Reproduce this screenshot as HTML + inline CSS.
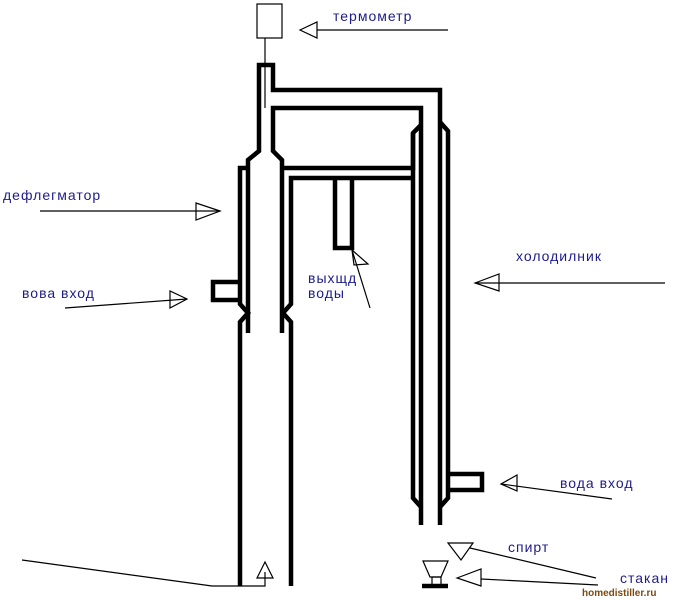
<!DOCTYPE html>
<html><head><meta charset="utf-8"><style>
html,body{margin:0;padding:0;background:#fff;width:675px;height:600px;overflow:hidden}
svg{display:block}
text{font-family:"Liberation Sans",Arial,sans-serif;font-size:14px;letter-spacing:1px;fill:#1c1c8a}
</style></head><body>
<svg width="675" height="600" viewBox="0 0 675 600" xmlns="http://www.w3.org/2000/svg">
<g fill="none" stroke="#000" stroke-width="4.5" stroke-linejoin="miter" stroke-linecap="butt">
<polyline points="248,333 248,160 259,151 259,65 273,65 273,90 440,90 440,525"/>
<polyline points="282,333 282,160 273,151 273,108 421,108 421,525"/>
<polyline points="247,168 240,168 240,304 248,313 240,322 240,586"/>
<polyline points="282,168 413,168 413,133 421,125"/>
<polyline points="413,133 413,498 421,507"/>
<polyline points="291,586 291,322 283,313 291,304 291,178 411,178"/>
<polyline points="440,122 448,131 448,498 440,507"/>
<polyline points="335,178 335,248 352,248 352,178"/>
<polyline points="238,282 213,282 213,300 238,300"/>
<polyline points="448,474 482,474 482,490 448,490"/>
<line x1="422" y1="586" x2="448" y2="586"/>
</g>
<g fill="none" stroke="#000" stroke-width="1.2">
<rect x="257" y="4" width="25" height="34"/>
<line x1="265" y1="38" x2="265" y2="108"/>
<line x1="317" y1="30" x2="448" y2="30"/>
<polygon points="300,30 317,22 317,38"/>
<line x1="40" y1="211" x2="220" y2="211"/>
<polygon points="220,211 196,203 196,220"/>
<line x1="65" y1="308" x2="187" y2="299"/>
<polygon points="187,299 170,291 170,308"/>
<line x1="370" y1="308" x2="352" y2="250"/>
<polygon points="352,250 368,264 354,265"/>
<line x1="665" y1="283" x2="475" y2="283"/>
<polygon points="475,283 499,274 499,291"/>
<line x1="612" y1="499" x2="501" y2="484"/>
<polygon points="501,484 517,475 517,491"/>
<line x1="470" y1="548" x2="596" y2="578"/>
<polygon points="448,543 473,543 461,560"/>
<line x1="481" y1="579" x2="598" y2="585"/>
<polygon points="457,578 481,569 481,586"/>
<polygon points="423,561 448,561 441,577 430,577"/>
<rect x="432" y="577" width="9" height="8"/>
<polyline points="22,560 212,586 265,586 265,572"/>
<polygon points="265,562 257,578 273,578"/>
</g>
<text x="333" y="21">термометр</text>
<text x="3" y="200">дефлегматор</text>
<text x="22" y="298">вова вход</text>
<text x="308" y="283">выхщд</text>
<text x="308" y="298">воды</text>
<text x="516" y="261">холодилник</text>
<text x="560" y="488">вода вход</text>
<text x="508" y="552">спирт</text>
<text x="620" y="583">стакан</text>
<text x="582" y="596" style="font-size:10px;letter-spacing:0;font-weight:bold;fill:#7a4a10">homedistiller.ru</text>
</svg>
</body></html>
